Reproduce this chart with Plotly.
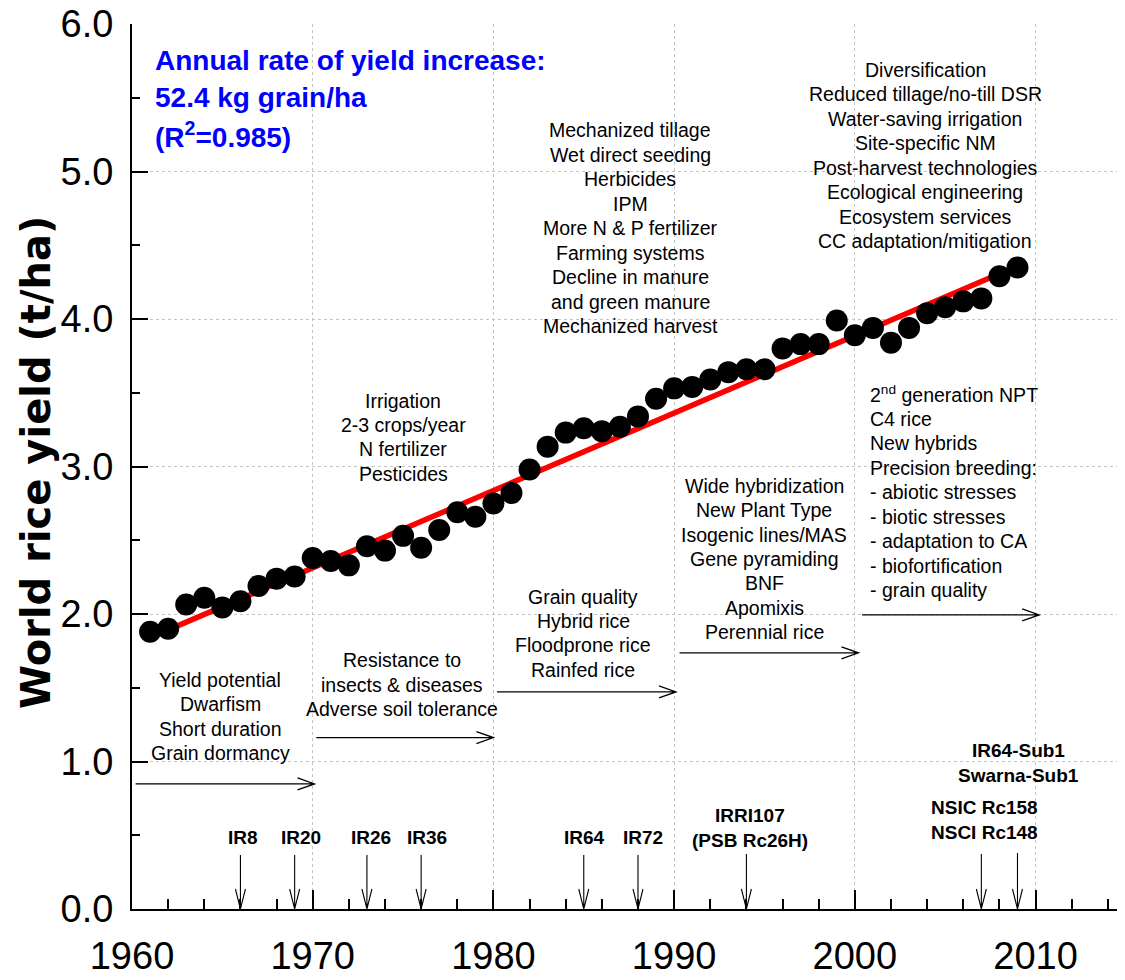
import plotly.graph_objects as go

# ---------------- data ----------------
years = list(range(1961, 2010))
yield_t_ha = [1.88, 1.90, 2.065, 2.11, 2.045, 2.086, 2.19, 2.24, 2.255, 2.38,
              2.36, 2.33, 2.46, 2.43, 2.53, 2.45, 2.57, 2.69, 2.66, 2.75,
              2.82, 2.98, 3.135, 3.23, 3.26, 3.24, 3.27, 3.34, 3.46, 3.53,
              3.54, 3.59, 3.64, 3.66, 3.66, 3.80, 3.83, 3.83, 3.99, 3.89,
              3.94, 3.84, 3.94, 4.04, 4.08, 4.12, 4.14, 4.29, 4.35]
trend_years = [1961, 2009]
trend_values = [1.84, 4.36]

x_tick_vals = [1960, 1970, 1980, 1990, 2000, 2010]
y_tick_vals = [0, 1, 2, 3, 4, 5, 6]

stat_lines = ["Annual rate of yield increase:", "52.4 kg grain/ha", "(R<sup>2</sup>=0.985)"]
block_mech = ["Mechanized tillage", "Wet direct seeding", "Herbicides", "IPM",
              "More N & P fertilizer", "Farming systems", "Decline in manure",
              "and green manure", "Mechanized harvest"]
block_div = ["Diversification", "Reduced tillage/no-till DSR", "Water-saving irrigation",
             "Site-specific NM", "Post-harvest technologies", "Ecological engineering",
             "Ecosystem services", "CC adaptation/mitigation"]
block_irr = ["Irrigation", "2-3 crops/year", "N fertilizer", "Pesticides"]
block_2nd = ["2<sup>nd</sup> generation NPT", "C4 rice", "New hybrids", "Precision breeding:",
             "- abiotic stresses", "- biotic stresses", "- adaptation to CA",
             "- biofortification", "- grain quality"]
block_wide = ["Wide hybridization", "New Plant Type", "Isogenic lines/MAS", "Gene pyramiding",
              "BNF", "Apomixis", "Perennial rice"]
block_grain = ["Grain quality", "Hybrid rice", "Floodprone rice", "Rainfed rice"]
block_res = ["Resistance to", "insects & diseases", "Adverse soil tolerance"]
block_yield = ["Yield potential", "Dwarfism", "Short duration", "Grain dormancy"]

variety_years = [1966, 1969, 1973, 1976, 1985, 1988, 1994, 2007, 2009]
variety_labels = [["IR8"], ["IR20"], ["IR26"], ["IR36"], ["IR64"], ["IR72"],
                  ["IRRI107", "(PSB Rc26H)"], ["NSIC Rc158", "NSCI Rc148"],
                  ["IR64-Sub1", "Swarna-Sub1"]]

# ---------------- layout geometry ----------------
OFF = 8                      # page body margin
W, H = 1117, 972
L, R, T, B = 124, 0, 16, 71
XR = [1960, 2014.95]
YR = [0, 6.0005]
PW, PH = W - L - R, H - T - B


def px2x(px):
    return XR[0] + (px - OFF - L) * (XR[1] - XR[0]) / PW


def px2y(py):
    return (H - B - (py - OFF)) * (YR[1] - YR[0]) / PH


def dx(px):
    return px * (XR[1] - XR[0]) / PW


def dy(px):
    return px * (YR[1] - YR[0]) / PH


REG = "Liberation Sans, Arial, sans-serif"
BOLD = "Liberation Sans, Arial, sans-serif"

fig = go.Figure()
fig.add_trace(go.Scatter(x=trend_years, y=trend_values, mode="lines",
                         line=dict(color="#ff0000", width=5.5), showlegend=False,
                         hoverinfo="skip"))
fig.add_trace(go.Scatter(x=years, y=yield_t_ha, mode="markers",
                         marker=dict(color="black", size=22, line=dict(width=0)),
                         showlegend=False))

ann = []


def add_block(lines, cx, y0, step, align="center", font=None):
    for i, t in enumerate(lines):
        ann.append(dict(x=px2x(cx), y=px2y(y0 + i * step), text=t, showarrow=False,
                        xanchor=align, yanchor="middle",
                        font=font or dict(family=REG, size=19.5, color="black")))


add_block(stat_lines, 153, 60, 37.5, align="left",
          font=dict(family=BOLD, size=28, color="#0000ff", weight="bold"))
add_block(block_mech, 630, 130, 24.5)
add_block(block_div, 925, 70, 24.43)
add_block(block_irr, 403, 401, 24.2)
add_block(block_2nd, 868, 394, 24.5, align="left")
add_block(block_wide, 764, 486, 24.33)
add_block(block_grain, 583, 597, 24.2)
add_block(block_res, 402, 660, 24.5)
add_block(block_yield, 220, 680, 24.33)

# variety labels
var_label_px = [(243, 837), (301, 837), (371, 837), (427, 837), (584, 837), (643, 837),
                (750, 815), (984, 807), (1018, 750)]
for (cx, cy), labs in zip(var_label_px, variety_labels):
    add_block(labs, cx, cy, 25, font=dict(family=BOLD, size=19, color="black", weight="bold"))

# y axis title
ann.append(dict(xref="paper", yref="paper", x=(36 - OFF - L) / PW, y=(H - B - (463 - OFF)) / PH,
                text="<b>World rice yield (t/ha)</b>", textangle=-90, showarrow=False,
                xanchor="center", yanchor="middle",
                font=dict(family="DejaVu Sans, Liberation Sans, Arial", size=40, color="black")))

shapes = []
# horizontal period arrows
h_arrows = [(1960.2, 1970.1, 0.848), (1970.2, 1980.0, 1.162), (1980.2, 1990.1, 1.472),
            (1990.3, 2000.2, 1.737), (2000.4, 2010.2, 1.994)]
hx, hy = dx(17), dy(6)
for x0, x1, yv in h_arrows:
    shapes.append(dict(type="path", xref="x", yref="y",
                       path=f"M {x0},{yv} L {x1},{yv} M {x1-hx},{yv+hy} L {x1},{yv} L {x1-hx},{yv-hy}",
                       line=dict(color="black", width=1.3)))
# vertical variety arrows
v_top_px = [855, 855, 855, 855, 855, 855, 854, 854, 853]
vx, vy = dx(5), dy(20)
for xv, tp in zip(variety_years, v_top_px):
    yt = px2y(tp)
    shapes.append(dict(type="path", xref="x", yref="y",
                       path=f"M {xv},{yt} L {xv},0 M {xv-vx},{vy} L {xv},0 L {xv+vx},{vy}",
                       line=dict(color="black", width=1.1)))

fig.update_layout(
    width=W, height=H, margin=dict(l=L, r=R, t=T, b=B, autoexpand=False),
    paper_bgcolor="white", plot_bgcolor="white", showlegend=False,
    annotations=ann, shapes=shapes,
    xaxis=dict(range=XR, tickvals=x_tick_vals, showline=True, linecolor="black", linewidth=2,
               ticks="inside", ticklen=19, tickwidth=1.5, tickcolor="black",
               showgrid=True, gridcolor="#c4c4c4", griddash="dot", gridwidth=1,
               zeroline=False, ticklabelstandoff=12, ticklabeloverflow="allow",
               tickfont=dict(family=REG, size=38, color="black"),
               minor=dict(dtick=2, tick0=1960, ticks="inside", ticklen=10, tickwidth=1.5,
                          tickcolor="black", showgrid=False)),
    yaxis=dict(range=YR, tickvals=y_tick_vals, tickformat=".1f", showline=True,
               linecolor="black", linewidth=2, ticks="inside", ticklen=16, tickwidth=1.5,
               tickcolor="black", showgrid=True, gridcolor="#c4c4c4", griddash="dot",
               gridwidth=1, zeroline=False, ticklabelstandoff=9, ticklabeloverflow="allow",
               tickfont=dict(family=REG, size=38, color="black"),
               minor=dict(dtick=0.5, tick0=0, ticks="inside", ticklen=8, tickwidth=1.5,
                          tickcolor="black", showgrid=False)),
)

fig.write_html("out.html")
